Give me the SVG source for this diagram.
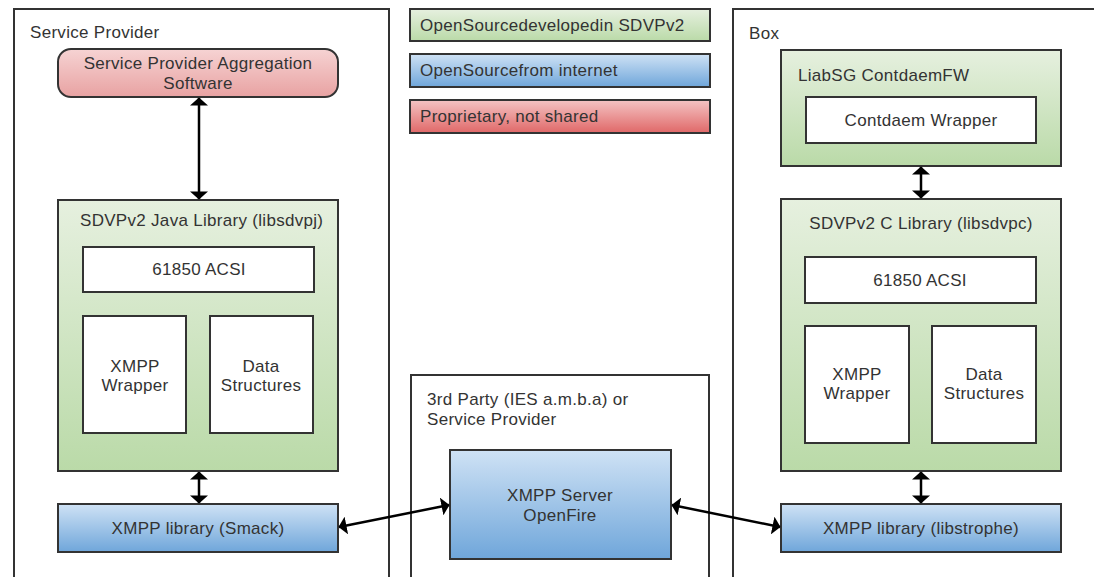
<svg xmlns="http://www.w3.org/2000/svg" width="1094" height="577" viewBox="0 0 1094 577">
<defs>
<linearGradient id="gGreen" x1="0" y1="0" x2="0" y2="1"><stop offset="0" stop-color="#e6f0df"/><stop offset="1" stop-color="#badaa8"/></linearGradient>
<linearGradient id="gBlue" x1="0" y1="0" x2="0" y2="1"><stop offset="0" stop-color="#cfe2f5"/><stop offset="1" stop-color="#6fa6da"/></linearGradient>
<linearGradient id="gRed" x1="0" y1="0" x2="0" y2="1"><stop offset="0" stop-color="#f4c4c4"/><stop offset="1" stop-color="#e06868"/></linearGradient>
<linearGradient id="gPink" x1="0" y1="0" x2="0" y2="1"><stop offset="0" stop-color="#f6d3d3"/><stop offset="1" stop-color="#e8a2a2"/></linearGradient>
<marker id="ah" viewBox="0 0 8 18" refX="7.5" refY="9" markerWidth="3.4" markerHeight="7.2" orient="auto-start-reverse" markerUnits="strokeWidth"><path d="M0,0 L8,9 L0,18 z" fill="#000"/></marker>
</defs>
<style>
.outer{fill:#fff;stroke:#333;stroke-width:2}
.box{stroke:#333;stroke-width:2}
.white{fill:#fff;stroke:#333;stroke-width:2}
.t{font-family:"Liberation Sans",Arial,sans-serif;font-size:17px;letter-spacing:0.3px;fill:#333}
.c{text-anchor:middle}
.conn{stroke:#000;stroke-width:2.5;fill:none;marker-start:url(#ah);marker-end:url(#ah)}
</style>
<rect width="1094" height="577" fill="#fff"/>

<g id="service-provider">
<rect class="outer" x="14" y="9" width="375" height="580"/>
<text class="t" x="30" y="38">Service Provider</text>
</g>

<g id="legend-green">
<rect class="box" x="410" y="9" width="300" height="32" fill="url(#gGreen)"/>
<text class="t" x="420" y="31">OpenSourcedevelopedin SDVPv2</text>
</g>
<g id="legend-blue">
<rect class="box" x="410" y="54" width="300" height="33" fill="url(#gBlue)"/>
<text class="t" x="420" y="76">OpenSourcefrom internet</text>
</g>
<g id="legend-red">
<rect class="box" x="410" y="100" width="300" height="33" fill="url(#gRed)"/>
<text class="t" x="420" y="122">Proprietary, not shared</text>
</g>

<g id="third-party">
<rect class="outer" x="411" y="375" width="298" height="220"/>
<text class="t" x="427" y="405">3rd Party (IES  a.m.b.a) or</text>
<text class="t" x="427" y="425">Service Provider</text>
</g>

<g id="box">
<rect class="outer" x="733" y="9" width="380" height="580"/>
<text class="t" x="749" y="39">Box</text>
</g>

<g id="aggregation">
<rect class="box" x="58" y="49" width="280" height="48" rx="13" ry="13" fill="url(#gPink)"/>
<text class="t c" x="198" y="69">Service Provider Aggregation</text>
<text class="t c" x="198" y="89">Software</text>
</g>

<g id="java-lib">
<rect class="box" x="58" y="200" width="280" height="271" fill="url(#gGreen)"/>
<text class="t" x="80" y="226">SDVPv2 Java Library (libsdvpj)</text>
</g>
<g id="java-acsi">
<rect class="white" x="83" y="247" width="231" height="45"/>
<text class="t c" x="199" y="275">61850 ACSI</text>
</g>
<g id="java-xmpp-wrapper">
<rect class="white" x="83" y="316" width="103" height="117"/>
<text class="t c" x="135" y="372">XMPP</text>
<text class="t c" x="135" y="391">Wrapper</text>
</g>
<g id="java-data">
<rect class="white" x="210" y="316" width="103" height="117"/>
<text class="t c" x="261" y="372">Data</text>
<text class="t c" x="261" y="391">Structures</text>
</g>

<g id="smack">
<rect class="box" x="58" y="504" width="280" height="48" fill="url(#gBlue)"/>
<text class="t c" x="198" y="534">XMPP library (Smack)</text>
</g>

<g id="xmpp-server">
<rect class="box" x="450" y="450" width="221" height="109" fill="url(#gBlue)"/>
<text class="t c" x="560" y="501">XMPP Server</text>
<text class="t c" x="560" y="521">OpenFire</text>
</g>

<g id="liabsg">
<rect class="box" x="781" y="50" width="280" height="116" fill="url(#gGreen)"/>
<text class="t" x="798" y="81">LiabSG ContdaemFW</text>
</g>
<g id="contdaem-wrapper">
<rect class="white" x="806" y="97" width="230" height="46"/>
<text class="t c" x="921" y="126">Contdaem Wrapper</text>
</g>

<g id="c-lib">
<rect class="box" x="781" y="199" width="280" height="272" fill="url(#gGreen)"/>
<text class="t c" x="921" y="229">SDVPv2 C Library (libsdvpc)</text>
</g>
<g id="c-acsi">
<rect class="white" x="805" y="257" width="231" height="46"/>
<text class="t c" x="920" y="286">61850 ACSI</text>
</g>
<g id="c-xmpp-wrapper">
<rect class="white" x="805" y="326" width="104" height="117"/>
<text class="t c" x="857" y="380">XMPP</text>
<text class="t c" x="857" y="399">Wrapper</text>
</g>
<g id="c-data">
<rect class="white" x="932" y="326" width="104" height="117"/>
<text class="t c" x="984" y="380">Data</text>
<text class="t c" x="984" y="399">Structures</text>
</g>

<g id="libstrophe">
<rect class="box" x="781" y="504" width="280" height="48" fill="url(#gBlue)"/>
<text class="t c" x="921" y="534">XMPP library (libstrophe)</text>
</g>

<g id="connectors">
<line class="conn" x1="199" y1="98" x2="199" y2="199"/>
<line class="conn" x1="199" y1="472" x2="199" y2="503"/>
<line class="conn" x1="339" y1="527" x2="449" y2="505"/>
<line class="conn" x1="672" y1="505" x2="780" y2="527"/>
<line class="conn" x1="921" y1="167" x2="921" y2="198"/>
<line class="conn" x1="921" y1="472" x2="921" y2="503"/>
</g>
</svg>
